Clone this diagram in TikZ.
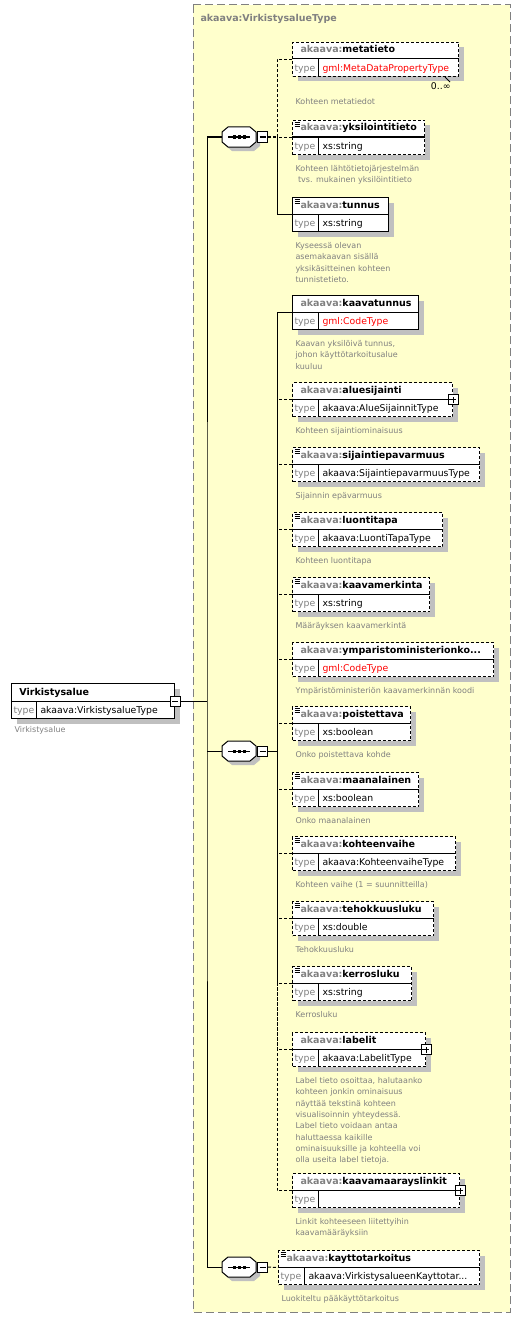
\documentclass[tikz,border=0pt]{standalone}
\usepackage{fontspec}
\setmainfont{DejaVu Sans}
\usetikzlibrary{calc,shadows}

\definecolor{areayellow}{HTML}{FFFFCC}
\definecolor{framegray}{HTML}{808080}
\definecolor{nsgray}{HTML}{808080}
\definecolor{descgray}{HTML}{808080}
\definecolor{shadowgray}{HTML}{C0C0C0}
\definecolor{typered}{HTML}{FF0000}

\tikzset{
  elbox/.style={draw, fill=white, anchor=north west, minimum height=34pt, inner sep=0pt,
    drop shadow={shadow xshift=5pt, shadow yshift=-5pt, fill=shadowgray, opacity=1}},
  optional/.style={dash pattern=on 3pt off 2pt},
  optline/.style={dash pattern=on 3pt off 2pt},
  docicon/.style={path picture={
    \foreach \k in {2pt,3.8pt,5.6pt}
      \draw[solid, line width=0.8pt] ([xshift=2pt, yshift=-\k]path picture bounding box.north west) -- ++(5pt,0);}},
  minusbox/.style={draw, solid, fill=white, minimum size=10pt, inner sep=0pt,
    path picture={\draw[solid] ([xshift=2pt]path picture bounding box.west) -- ([xshift=-2pt]path picture bounding box.east);}},
  plusbox/.style={minusbox,
    path picture={\draw[solid] ([xshift=2pt]path picture bounding box.west) -- ([xshift=-2pt]path picture bounding box.east);
      \draw[solid] ([yshift=2pt]path picture bounding box.south) -- ([yshift=-2pt]path picture bounding box.north);}},
  plusmark/.style={append after command={node[plusbox] at (\tikzlastnode.east) {}}},
  seqframe/.style={minimum width=34pt, minimum height=20pt, inner sep=0pt},
  headtxt/.style={anchor=base west, inner sep=0pt, font=\bfseries\fontsize{9.5}{11}\selectfont},
  typelbl/.style={anchor=base west, inner sep=0pt, text=nsgray, font=\fontsize{9.3}{11}\selectfont},
  typetxt/.style={anchor=base west, inner sep=0pt, font=\fontsize{9.3}{11}\selectfont},
  desc/.style={anchor=north west, inner sep=0pt, text=descgray, align=left, font=\fontsize{8}{11.3}\selectfont}
}

% element box: [style]{name}{x,y of top left}{width}{local name}{type}
\newcommand{\xelem}[6][]{%
  \node[elbox,#1,minimum width=#4] (#2) at (#3) {};
  \draw ([yshift=-17pt]#2.north west) -- ([yshift=-17pt]#2.north east);
  \draw ([xshift=26pt,yshift=-17pt]#2.north west) -- ([xshift=26pt]#2.south west);
  \node[headtxt] at ([xshift=8pt,yshift=-11pt]#2.north west) {\textcolor{nsgray}{akaava:}#5};
  \node[typelbl] at ([xshift=2pt,yshift=5.5pt]#2.south west) {type};
  \node[typetxt] at ([xshift=30pt,yshift=5.5pt]#2.south west) {#6};
}
\newcommand{\seqoutline}{(-11,10) -- (11,10) -- (17,5) -- (17,-5) -- (11,-10) -- (-11,-10) -- (-17,-5) -- (-17,5) -- cycle}
% sequence compositor: {name}{x,y of centre}
\newcommand{\xseq}[2]{%
  \begin{scope}[shift={(#2)}]
    \fill[shadowgray,shift={(4,-4)}] \seqoutline;
    \filldraw[fill=white] \seqoutline;
    \draw (-11,0) -- (11,0);
    \foreach \d in {-5,0,5} \fill (\d-1.5,-1.5) rectangle (\d+1.5,1.5);
    \node[seqframe] (#1) at (0,0) {};
    \node[minusbox, anchor=west] (#1m) at (18,0) {};
  \end{scope}}

\begin{document}
\begin{tikzpicture}[x=1pt, y=1pt, line width=1pt]
\useasboundingbox (0,0) rectangle (521,-1319);

\draw[framegray, dash pattern=on 8pt off 4pt, fill=areayellow] (193,-5) rectangle (510,-1312);
\node[anchor=base west, inner sep=0pt, text=framegray, font=\bfseries\fontsize{9.5}{11}\selectfont] (areatitle) at (200,-22) {akaava:VirkistysalueType};

% root element
\node[elbox, minimum width=163pt, minimum height=35pt] (root) at (11,-683) {};
\draw ([yshift=-18pt]root.north west) -- ([yshift=-18pt]root.north east);
\draw ([xshift=25pt,yshift=-18pt]root.north west) -- ([xshift=25pt]root.south west);
\node[headtxt] at ([xshift=8pt,yshift=-12pt]root.north west) {Virkistysalue};
\node[typelbl] at ([xshift=2pt,yshift=5.5pt]root.south west) {type};
\node[typetxt] at ([xshift=29pt,yshift=5.5pt]root.south west) {akaava:VirkistysalueType};
\node[minusbox] (rootm) at (root.east) {};
\node[desc] (root-d) at (14,-726) {Virkistysalue};

\xseq{seqA}{239,-137}
\xseq{seqB}{239,-751}
\xseq{seqC}{239,-1267}

% first sequence
\xelem[optional]{metatieto}{292,-42}{166}{metatieto}{\textcolor{typered}{gml:MetaDataPropertyType}}
\draw[line width=0.8pt] ([xshift=-14pt]metatieto.south east) -- ++(5,-5);
\node[typetxt, anchor=base east] (metatieto-m) at (451,-90) {0..∞};
\node[desc] (metatieto-d) at (295,-98) {Kohteen metatiedot};
\xelem[optional,docicon]{yksilointitieto}{292,-120}{132}{yksilointitieto}{xs:string}
\node[desc] (yksilointitieto-d) at ([xshift=3pt,yshift=-10pt]yksilointitieto.south west) {Kohteen lähtötietojärjestelmän\\\ tvs. mukainen yksilöintitieto};
\xelem[docicon]{tunnus}{292,-197}{96}{tunnus}{xs:string}
\node[desc] (tunnus-d) at ([xshift=3pt,yshift=-10pt]tunnus.south west) {Kyseessä olevan\\asemakaavan sisällä\\yksikäsitteinen kohteen\\tunnistetieto.};

% second sequence
\xelem{kaavatunnus}{292,-295}{126}{kaavatunnus}{\textcolor{typered}{gml:CodeType}}
\node[desc] (kaavatunnus-d) at ([xshift=3pt,yshift=-10pt]kaavatunnus.south west) {Kaavan yksilöivä tunnus,\\johon käyttötarkoitusalue\\kuuluu};
\xelem[optional,plusmark]{aluesijainti}{292,-382}{160}{aluesijainti}{akaava:AlueSijainnitType}
\node[desc] (aluesijainti-d) at ([xshift=3pt,yshift=-10pt]aluesijainti.south west) {Kohteen sijaintiominaisuus};
\xelem[optional,docicon]{sijaintiepavarmuus}{292,-447}{187}{sijaintiepavarmuus}{akaava:SijaintiepavarmuusType}
\node[desc] (sijaintiepavarmuus-d) at ([xshift=3pt,yshift=-10pt]sijaintiepavarmuus.south west) {Sijainnin epävarmuus};
\xelem[optional,docicon]{luontitapa}{292,-512}{150}{luontitapa}{akaava:LuontiTapaType}
\node[desc] (luontitapa-d) at ([xshift=3pt,yshift=-10pt]luontitapa.south west) {Kohteen luontitapa};
\xelem[optional,docicon]{kaavamerkinta}{292,-577}{137}{kaavamerkinta}{xs:string}
\node[desc] (kaavamerkinta-d) at ([xshift=3pt,yshift=-10pt]kaavamerkinta.south west) {Määräyksen kaavamerkintä};
\xelem[optional]{ymparisto}{292,-642}{201}{ymparistoministerionko...}{\textcolor{typered}{gml:CodeType}}
\node[desc] (ymparisto-d) at ([xshift=3pt,yshift=-10pt]ymparisto.south west) {Ympäristöministeriön kaavamerkinnän koodi};
\xelem[optional,docicon]{poistettava}{292,-706}{118}{poistettava}{xs:boolean}
\node[desc] (poistettava-d) at ([xshift=3pt,yshift=-10pt]poistettava.south west) {Onko poistettava kohde};
\xelem[optional,docicon]{maanalainen}{292,-772}{126}{maanalainen}{xs:boolean}
\node[desc] (maanalainen-d) at ([xshift=3pt,yshift=-10pt]maanalainen.south west) {Onko maanalainen};
\xelem[optional,docicon]{kohteenvaihe}{292,-836}{163}{kohteenvaihe}{akaava:KohteenvaiheType}
\node[desc] (kohteenvaihe-d) at ([xshift=3pt,yshift=-10pt]kohteenvaihe.south west) {Kohteen vaihe (1 = suunnitteilla)};
\xelem[optional,docicon]{tehokkuusluku}{292,-901}{141}{tehokkuusluku}{xs:double}
\node[desc] (tehokkuusluku-d) at ([xshift=3pt,yshift=-10pt]tehokkuusluku.south west) {Tehokkuusluku};
\xelem[optional,docicon]{kerrosluku}{292,-966}{119}{kerrosluku}{xs:string}
\node[desc] (kerrosluku-d) at ([xshift=3pt,yshift=-10pt]kerrosluku.south west) {Kerrosluku};
\xelem[optional,plusmark]{labelit}{292,-1032}{133}{labelit}{akaava:LabelitType}
\node[desc] (labelit-d) at ([xshift=3pt,yshift=-10pt]labelit.south west) {Label tieto osoittaa, halutaanko\\kohteen jonkin ominaisuus\\näyttää tekstinä kohteen\\visualisoinnin yhteydessä.\\Label tieto voidaan antaa\\haluttaessa kaikille\\ominaisuuksille ja kohteella voi\\olla useita label tietoja.};
\xelem[optional,plusmark]{kaavamaarayslinkit}{292,-1173}{167}{kaavamaarayslinkit}{}
\node[desc] (kaavamaarayslinkit-d) at ([xshift=3pt,yshift=-10pt]kaavamaarayslinkit.south west) {Linkit kohteeseen liitettyihin\\kaavamääräyksiin};

% third sequence
\xelem[optional,docicon]{kayttotarkoitus}{278,-1250}{201}{kayttotarkoitus}{akaava:VirkistysalueenKayttotar...}
\node[desc] (kayttotarkoitus-d) at ([xshift=3pt,yshift=-10pt]kayttotarkoitus.south west) {Luokiteltu pääkäyttötarkoitus};

% connectors
\coordinate (trunk) at (207,-701);
\coordinate (busA) at (277,-137);
\coordinate (busB) at (277,-751);
\draw (rootm.east) -- (trunk);
\draw (seqA.west) -| (trunk) |- (seqC.west);
\draw (trunk |- seqB.west) -- (seqB.west);
\draw[optline] (seqAm.east) -- (busA);
\draw[optline] (metatieto.west) -| (busA);
\draw[optline] (yksilointitieto.west) -| (busA);
\draw (tunnus.west) -| (busA);
\draw (seqBm.east) -- (busB);
\draw (kaavatunnus.west) -| (busB);
\foreach \e in {aluesijainti,sijaintiepavarmuus,luontitapa,kaavamerkinta,ymparisto,poistettava,maanalainen,kohteenvaihe,tehokkuusluku,kerrosluku,labelit,kaavamaarayslinkit}
  \draw[optline] (\e.west) -| (busB);
\draw[optline] (seqCm.east) -- (kayttotarkoitus.west);
\end{tikzpicture}
\end{document}
